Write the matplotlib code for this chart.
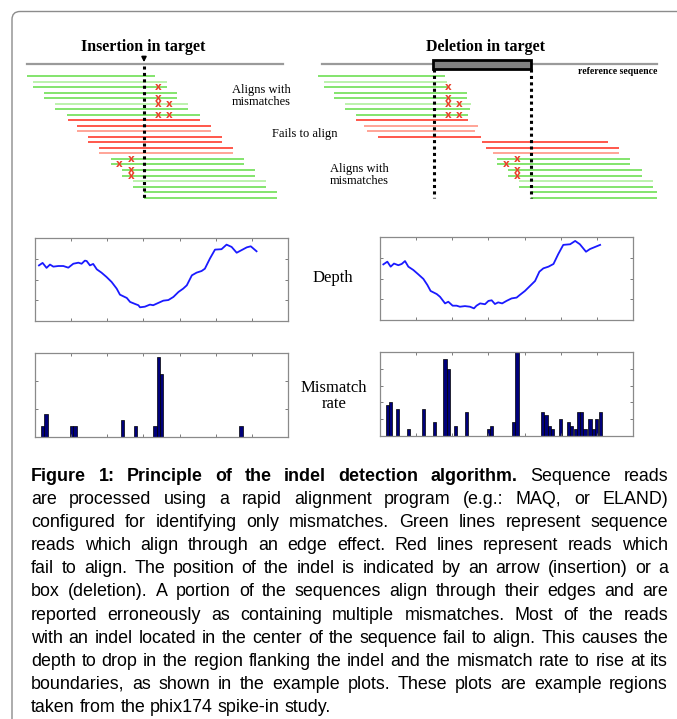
import matplotlib
matplotlib.use("Agg")
import matplotlib.pyplot as plt
from matplotlib import font_manager as fm
from matplotlib.patches import Rectangle, FancyBboxPatch

W, H = 677, 719

# ---------------- schematic reads (pixel units of the figure) ----------------
ROW_Y0, ROW_STEP = 76.0, 5.53

ins_start = [27, 33, 33, 44, 44, 55, 55, 67, 68, 77, 77, 88, 88, 99, 99,
             111, 111, 122, 122, 133, 133, 144, 144]
ins_end = [155, 167, 167, 177, 177, 188, 188, 200, 200, 211, 211, 222, 222,
           233, 233, 244, 244, 255, 255, 266, 266, 277, 277]
ins_kind = ['g', 'gl', 'g', 'g', 'g', 'gl', 'g', 'g', 'r', 'r', 'rl', 'r', 'r',
            'r', 'rl', 'g', 'g', 'g', 'g', 'gl', 'g', 'g', 'g']

del_start = [318, 324, 324, 334, 334, 345, 345, 356, 356, 364, 367, 378, 482,
             486, 493, 497, 497, 508, 508, 519, 519, 531, 531]
del_end = [445, 447, 447, 467, 467, 471, 470, 468, 468, 478, 475, 481, 608,
           619, 619, 630, 630, 642, 642, 653, 653, 657, 657]
del_kind = ['g', 'gl', 'g', 'g', 'g', 'gl', 'g', 'g', 'r', 'rl', 'rl', 'r', 'r',
            'r', 'rl', 'g', 'g', 'g', 'g', 'gl', 'g', 'g', 'g']

mm_y = [87, 98, 104, 104, 115, 115, 159, 164, 170, 176]
ins_mm_x = [158, 158, 158, 169, 158, 169, 131, 119, 131, 131]
del_mm_x = [448, 448, 448, 459, 448, 459, 517, 506, 517, 517]

INDEL_X = [144, 434, 531]
DEL_BOX = (433, 531)

# ---------------- depth curves ----------------
depth_l_x = [1.1, 2.1, 3.2, 4.15, 5.07, 6.46, 7.84, 9.22, 10.6, 12.0, 12.9, 13.8,
             14.3, 15.2, 16.1, 17.1, 18.4, 19.8, 21.2, 22.6, 23.5, 25.4, 26.3,
             27.7, 28.6, 29.05, 30.4, 31.8, 32.7, 34.1, 35.5, 36.9, 38.3, 39.7,
             41.0, 42.0, 43.4, 44.7, 46.1, 47.0, 48.4, 49.8, 51.6, 53.0, 54.4,
             55.8, 57.2, 58.6, 59.7, 61.3]
depth_l_y = [2.68, 2.80, 2.56, 2.72, 2.62, 2.65, 2.65, 2.57, 2.76, 2.81, 2.76,
             2.91, 2.89, 2.68, 2.75, 2.49, 2.33, 2.12, 1.88, 1.56, 1.27, 1.11,
             0.92, 0.82, 0.76, 0.66, 0.69, 0.79, 0.76, 0.87, 0.98, 1.01, 1.16,
             1.40, 1.56, 1.72, 2.20, 2.33, 2.41, 2.52, 3.01, 3.44, 3.46, 3.68,
             3.57, 3.29, 3.42, 3.55, 3.60, 3.36]

depth_r_x = [0.92, 2.03, 2.95, 3.87, 5.07, 6.0, 6.92, 7.84, 9.22, 10.6, 12.0,
             13.1, 14.0, 15.7, 16.6, 18.0, 18.9, 20.1, 21.2, 22.1, 23.5, 24.9,
             26.0, 26.7, 27.7, 29.05, 30.0, 30.9, 31.8, 32.7, 33.8, 35.0, 36.4,
             37.8, 38.7, 40.1, 41.5, 42.9, 44.1, 45.2, 46.6, 48.0, 49.3, 50.7,
             52.6, 54.0, 55.3, 57.0, 58.1, 59.5, 60.9]
depth_r_y = [2.68, 2.81, 2.57, 2.72, 2.64, 2.70, 2.84, 2.57, 2.41, 2.20, 1.98,
             1.69, 1.40, 1.25, 1.12, 0.80, 0.88, 0.69, 0.69, 0.64, 0.67, 0.64,
             0.56, 0.69, 0.80, 0.76, 0.92, 0.95, 0.77, 0.85, 0.80, 0.92, 1.04,
             1.08, 1.21, 1.40, 1.64, 1.88, 2.33, 2.49, 2.57, 2.70, 3.17, 3.62,
             3.65, 3.81, 3.65, 3.29, 3.42, 3.52, 3.62]

# ---------------- mismatch rates ----------------
mm_l_x = [2.12, 3.04, 10.15, 11.07, 24.2, 27.9, 33.2, 34.1, 35.05, 57.0]
mm_l_h = [0.40, 0.82, 0.40, 0.40, 0.60, 0.40, 0.40, 2.84, 2.24, 0.40]

mm_r_x = [2.03, 2.95, 4.89, 7.84, 11.99, 15.03, 17.99, 18.91, 20.94, 23.98,
          29.98, 30.9, 36.9, 37.9, 45.0, 45.9, 46.9, 47.8, 50.0, 52.1, 53.0,
          54.0, 54.9, 55.8, 56.7, 58.1, 59.0, 60.0, 61.1]
mm_r_h = [1.84, 2.04, 1.62, 0.43, 1.62, 0.85, 4.60, 4.01, 0.61, 1.42, 0.43,
          0.61, 0.85, 5.0, 1.42, 1.23, 0.61, 0.43, 1.01, 0.85, 0.61, 0.43,
          1.42, 1.42, 0.43, 1.01, 0.43, 1.01, 1.42]

caption_bold = "Figure 1: Principle of the indel detection algorithm."
caption_lines = [
    "Figure 1: Principle of the indel detection algorithm. Sequence reads",
    "are processed using a rapid alignment program (e.g.: MAQ, or ELAND)",
    "configured for identifying only mismatches. Green lines represent sequence",
    "reads which align through an edge effect. Red lines represent reads which",
    "fail to align. The position of the indel is indicated by an arrow (insertion) or a",
    "box (deletion). A portion of the sequences align through their edges and are",
    "reported erroneously as containing multiple mismatches. Most of the reads",
    "with an indel located in the center of the sequence fail to align. This causes the",
    "depth to drop in the region flanking the indel and the mismatch rate to rise at its",
    "boundaries, as shown in the example plots. These plots are example regions",
    "taken from the phix174 spike-in study.",
]

READ_COLORS = {'g': '#62dc45', 'gl': '#a9ef96', 'r': '#ff2a1a', 'rl': '#ff8c7a'}
SERIF = 'Liberation Serif'
names = {f.name for f in fm.fontManager.ttflist}
CAP_FONT = 'Liberation Sans Narrow' if 'Liberation Sans Narrow' in names else 'Liberation Sans'

fig = plt.figure(figsize=(W / 100, H / 100), dpi=100)
ax = fig.add_axes([0, 0, 1, 1])
ax.set_xlim(0, W)
ax.set_ylim(H, 0)
ax.axis('off')

# outer frame (only top and left visible)
ax.add_patch(FancyBboxPatch((12, 11.5), 800, 900,
                            boxstyle="round,pad=0,rounding_size=8",
                            fc='none', ec='#8c8c8c', lw=1.0))

# reference sequences
ax.plot([27, 283], [64, 64], color='#9a9a9a', lw=1.6)
ax.plot([322, 657], [64, 64], color='#9a9a9a', lw=1.6)
ax.add_patch(Rectangle((DEL_BOX[0], 60), DEL_BOX[1] - DEL_BOX[0], 9,
                       fc='#7f7f7f', ec='black', lw=2, zorder=4))
ax.annotate('', xy=(INDEL_X[0], 65), xytext=(INDEL_X[0], 54),
            arrowprops=dict(arrowstyle='-|>', color='black', lw=1.2,
                            mutation_scale=7), zorder=5)

ax.text(143, 47, 'Insertion in target', family=SERIF, weight='bold',
        fontsize=11.5, ha='center', va='center')
ax.text(485, 47, 'Deletion in target', family=SERIF, weight='bold',
        fontsize=11.5, ha='center', va='center')
ax.text(657, 72, 'reference sequence', family=SERIF, weight='bold',
        fontsize=7, ha='right', va='center')

for starts, ends, kinds in [(ins_start, ins_end, ins_kind), (del_start, del_end, del_kind)]:
    for i, (a, b, k) in enumerate(zip(starts, ends, kinds)):
        y = ROW_Y0 + i * ROW_STEP
        ax.plot([a, b], [y, y], color=READ_COLORS[k], lw=1.1, solid_capstyle='butt')

for x in INDEL_X:
    y_top = 66 if x == INDEL_X[0] else 69
    ax.plot([x, x], [y_top, 198], color='black', lw=2.2,
            linestyle=(0, (1, 1.1)), zorder=3)

for xs in (ins_mm_x, del_mm_x):
    for x, y in zip(xs, mm_y):
        ax.text(x, y, 'x', color='#e8402a', fontsize=7.5, weight='bold',
                family='DejaVu Sans', ha='center', va='center', zorder=6)

ax.text(232, 96, 'Aligns with\nmismatches', family=SERIF, fontsize=9,
        ha='left', va='center', linespacing=1.05)
ax.text(272, 134, 'Fails to align', family=SERIF, fontsize=9,
        ha='left', va='center')
ax.text(330, 175, 'Aligns with\nmismatches', family=SERIF, fontsize=9,
        ha='left', va='center', linespacing=1.05)

ax.text(333, 278, 'Depth', family=SERIF, fontsize=12, ha='center', va='center')
ax.text(334, 396, 'Mismatch\nrate', family=SERIF, fontsize=12, ha='center',
        va='center', linespacing=1.05)


def mini_axes(x0, y0, x1, y1, ymax, yticks):
    a = fig.add_axes([x0 / W, 1 - y1 / H, (x1 - x0) / W, (y1 - y0) / H])
    a.set_xlim(0, 70)
    a.set_ylim(0, ymax)
    a.set_xticks(range(10, 70, 10))
    a.set_yticks(yticks)
    a.tick_params(direction='in', length=2.5, width=0.6, color='#666666',
                  top=True, right=True, labelbottom=False, labelleft=False)
    for s in a.spines.values():
        s.set_color('#8a8a8a')
        s.set_linewidth(0.9)
    return a


a1 = mini_axes(35, 238, 288, 321, 4, [1, 2, 3])
a1.plot(depth_l_x, depth_l_y, color='#1a1aff', lw=1.3)
a2 = mini_axes(380, 237, 633, 320, 4, [1, 2, 3])
a2.plot(depth_r_x, depth_r_y, color='#1a1aff', lw=1.3)

a3 = mini_axes(35, 353, 288, 437, 3, [1, 2])
a3.bar(mm_l_x, mm_l_h, width=0.9, color='#00007a', edgecolor='black', lw=0.5)
a4 = mini_axes(380, 352, 633, 436, 5, [1, 2, 3, 4])
a4.bar(mm_r_x, mm_r_h, width=0.9, color='#00007a', edgecolor='black', lw=0.5)

# ---------------- justified caption ----------------
renderer = fig.canvas.get_renderer()
CAP_L, CAP_R = 31, 668
BASE0, LINE_STEP = 481, 23.1
n_bold = len(caption_bold.split())


def text_width(s, fs, weight):
    t = ax.text(0, 0, s, fontsize=fs, family=CAP_FONT, weight=weight)
    w = t.get_window_extent(renderer=renderer).width
    t.remove()
    return w


def line_words(i, line):
    words = line.split()
    out = []
    for j, w in enumerate(words):
        out.append((w, 'bold' if (i == 0 and j < n_bold) else 'normal'))
    return out


base_fs = 12
space0 = text_width('a a', base_fs, 'normal') - text_width('aa', base_fs, 'normal')
widest = 0
for i, line in enumerate(caption_lines):
    ws = line_words(i, line)
    nat = sum(text_width(w, base_fs, wt) for w, wt in ws) + space0 * (len(ws) - 1)
    widest = max(widest, nat)
fs = base_fs * (CAP_R - CAP_L) * 0.985 / widest
space = text_width('a a', fs, 'normal') - text_width('aa', fs, 'normal')

for i, line in enumerate(caption_lines):
    ws = line_words(i, line)
    widths = [text_width(w, fs, wt) for w, wt in ws]
    last = i == len(caption_lines) - 1
    gap = space if last else (CAP_R - CAP_L - sum(widths)) / (len(ws) - 1)
    x = CAP_L
    y = BASE0 + i * LINE_STEP
    for (w, wt), wd in zip(ws, widths):
        ax.text(x, y, w, fontsize=fs, family=CAP_FONT, weight=wt,
                ha='left', va='baseline')
        x += wd + gap

fig.savefig('out.png', dpi=100)
